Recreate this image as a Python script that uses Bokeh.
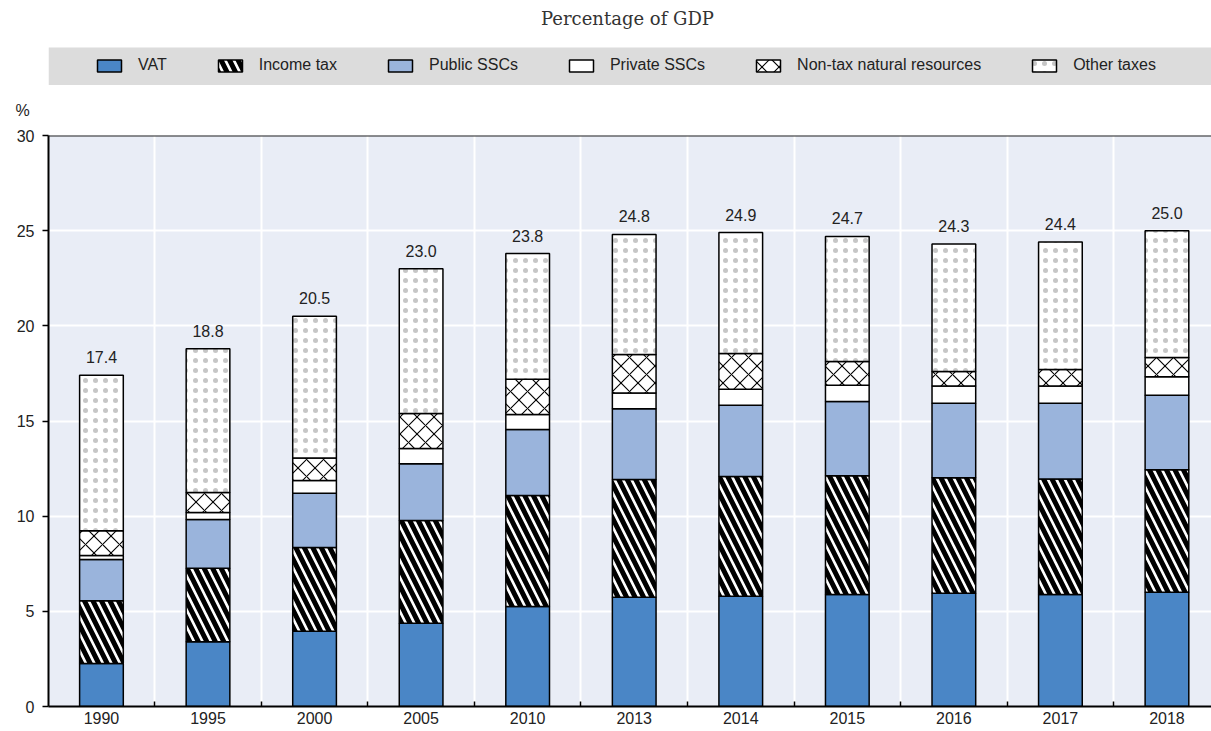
from bokeh.plotting import figure
from bokeh.models import (ColumnDataSource, FixedTicker, Range1d, Span, Title, Label,
                          Legend, LegendItem, BoxAnnotation)
from bokeh.layouts import column
from bokeh.embed import file_html
from bokeh.resources import INLINE
from bokeh.core.properties import value

# ---------------- data ----------------
years = ["1990", "1995", "2000", "2005", "2010", "2013", "2014", "2015", "2016", "2017", "2018"]
vat = [2.26, 3.40, 3.95, 4.37, 5.25, 5.74, 5.79, 5.88, 5.95, 5.88, 6.00]
income_tax = [3.30, 3.87, 4.40, 5.40, 5.84, 6.18, 6.30, 6.25, 6.07, 6.07, 6.44]
public_sscs = [2.16, 2.56, 2.86, 2.99, 3.46, 3.73, 3.74, 3.89, 3.91, 3.98, 3.91]
private_sscs = [0.21, 0.36, 0.67, 0.79, 0.79, 0.82, 0.84, 0.86, 0.91, 0.91, 0.97]
non_tax_natural_resources = [1.30, 1.06, 1.17, 1.84, 1.85, 2.02, 1.88, 1.25, 0.76, 0.86, 1.02]
other_taxes = [8.17, 7.55, 7.45, 7.61, 6.61, 6.31, 6.35, 6.57, 6.70, 6.70, 6.66]
totals = [17.4, 18.8, 20.5, 23.0, 23.8, 24.8, 24.9, 24.7, 24.3, 24.4, 25.0]
series_names = ["VAT", "Income tax", "Public SSCs", "Private SSCs",
                "Non-tax natural resources", "Other taxes"]
y_ticks = [0, 5, 10, 15, 20, 25, 30]

# ---------------- styles ----------------
FONT = "Liberation Sans"
FS = "16px"
fills = ["#4a86c6", "white", "#9ab4dc", "white", "white", "white"]
patterns = [None, "\\", None, None, "x", "."]
hatch_colors = ["black", "black", "black", "black", "black", "#c6c6c6"]
hatch_weights = [1, 5, 1, 1, 1.1, 1]
hatch_scales = [12, 17, 12, 12, 17, 10]
stackers = ["vat", "income", "public", "private", "ntnr", "other"]

xpos = list(range(len(years)))
boundaries = [i + 0.5 for i in xpos[:-1]]

src = ColumnDataSource(dict(
    x=xpos, vat=vat, income=income_tax, public=public_sscs, private=private_sscs,
    ntnr=non_tax_natural_resources, other=other_taxes,
    total=totals, total_label=[f"{t:.1f}" for t in totals],
))

# ---------------- main chart ----------------
p = figure(width=1211, height=646,
           x_range=Range1d(-0.497, 10.418), y_range=Range1d(0, 30),
           output_backend="svg", toolbar_location=None,
           min_border_left=48, min_border_right=0, min_border_top=50, min_border_bottom=25,
           background_fill_color="#e9edf6", border_fill_color="white",
           outline_line_color=None)

p.vbar_stack(stackers, x="x", width=0.41, source=src,
             fill_color=fills, line_color="black", line_width=1.5,
             hatch_pattern=patterns, hatch_color=hatch_colors,
             hatch_weight=hatch_weights, hatch_scale=hatch_scales)

p.text(x="x", y="total", text="total_label", source=src,
       text_align="center", text_baseline="bottom", y_offset=-12,
       text_font=value(FONT), text_font_size=FS, text_color="#222222")

p.xaxis.ticker = FixedTicker(ticks=xpos, minor_ticks=boundaries)
p.xaxis.major_label_overrides = {i: y for i, y in zip(xpos, years)}
p.xaxis.major_tick_in = 0
p.xaxis.major_tick_out = 0
p.xaxis.minor_tick_in = 5
p.xaxis.minor_tick_out = 0
p.xaxis.minor_tick_line_color = "black"
p.xaxis.minor_tick_line_width = 1.5
p.xaxis.major_label_standoff = 5

p.yaxis.ticker = FixedTicker(ticks=y_ticks)
p.yaxis.major_tick_in = 0
p.yaxis.major_tick_out = 6
p.yaxis.minor_tick_line_color = None
p.yaxis.major_label_standoff = 8

for ax in (p.xaxis, p.yaxis):
    ax.axis_line_color = "black"
    ax.axis_line_width = 2
    ax.major_tick_line_color = "black"
    ax.major_tick_line_width = 1.5
    ax.major_label_text_font = FONT
    ax.major_label_text_font_size = FS
    ax.major_label_text_color = "#222222"

p.xgrid.ticker = FixedTicker(ticks=boundaries)
p.xgrid.grid_line_color = "white"
p.xgrid.grid_line_width = 2
p.ygrid.grid_line_color = "white"
p.ygrid.grid_line_width = 2

p.add_layout(Span(location=30, dimension="width", line_color="#222222", line_width=2))
p.add_layout(Title(text="%", align="left", vertical_align="top", offset=-33, standoff=29,
                   text_font=FONT, text_font_size=FS, text_font_style="normal",
                   text_color="#222222"), "above")

# ---------------- header: title + legend band ----------------
# frame spans the header; y runs top-down in pixels so the band/title sit where wanted
leg = figure(width=1211, height=85, x_range=Range1d(48, 1211), y_range=Range1d(85, 0),
             output_backend="svg", toolbar_location=None,
             x_axis_type=None, y_axis_type=None,
             min_border_left=48, min_border_right=0, min_border_top=0, min_border_bottom=0,
             background_fill_color="white", border_fill_color="white",
             outline_line_color=None)
leg.grid.visible = False
leg.add_layout(BoxAnnotation(top=47, bottom=85, fill_color="#dcdcdc", fill_alpha=1,
                             line_color=None, level="underlay"))
leg.add_layout(Label(x=627, y=18, text="Percentage of GDP", text_align="center",
                     text_baseline="middle", text_font="DejaVu Serif",
                     text_font_size="18px", text_color="#333333"))

# same stacked series, hidden: they only feed the legend swatches
leg_renderers = leg.vbar_stack(stackers, x="x", width=0.41, source=src,
                               fill_color=fills, line_color="black", line_width=1.5,
                               hatch_pattern=patterns, hatch_color=hatch_colors,
                               hatch_weight=hatch_weights, hatch_scale=hatch_scales)
for r in leg_renderers:
    r.visible = False

items = [LegendItem(label=name, renderers=[r]) for name, r in zip(series_names, leg_renderers)]
legend = Legend(items=items, orientation="horizontal", location=(46, 11),
                spacing=48, glyph_width=30, glyph_height=15, label_standoff=14,
                padding=0, margin=0, background_fill_alpha=0, border_line_color=None,
                label_text_font=FONT, label_text_font_size=FS,
                label_text_color="#222222")
leg.add_layout(legend)

layout = column(leg, p, spacing=0)
open("out.html", "w").write(file_html(layout, INLINE))
